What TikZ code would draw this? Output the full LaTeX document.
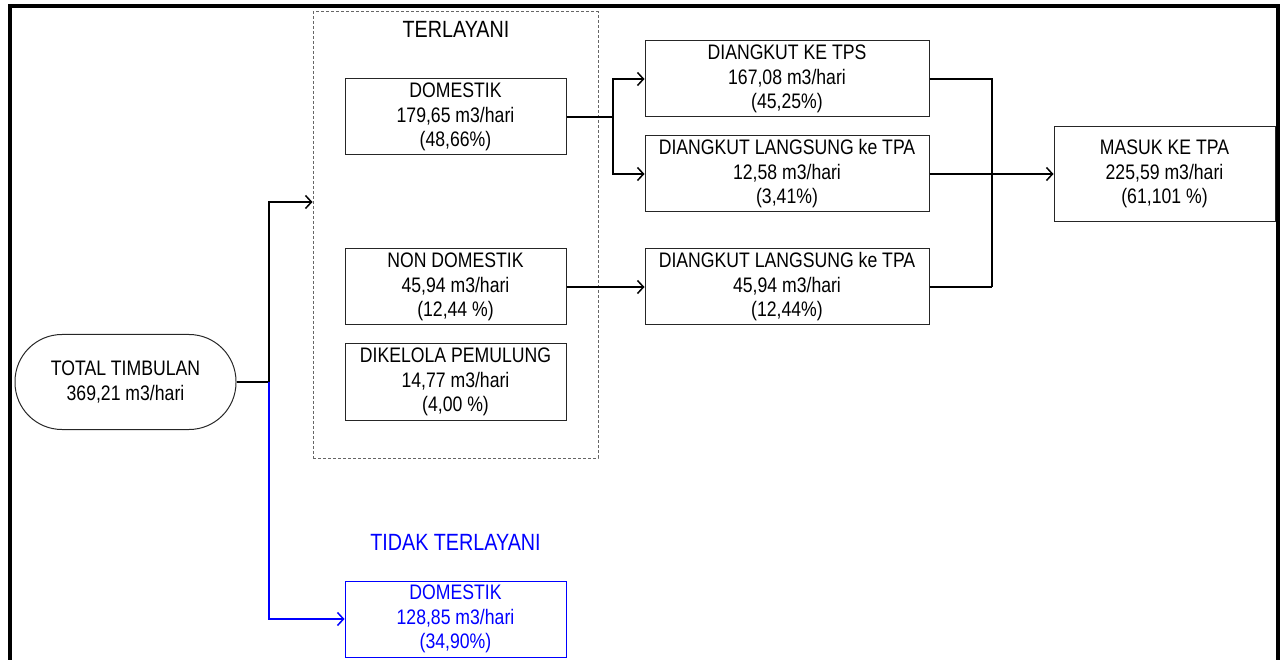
\documentclass[tikz,border=0pt]{standalone}
\usepackage{fontspec}
\setmainfont{Liberation Sans}[FakeStretch=0.84]
\usetikzlibrary{arrows.meta}
\tikzset{
  txt/.style={font=\fontsize{21}{24.5}\selectfont, align=center},
  head/.style={font=\fontsize{23.5}{26}\selectfont, align=center},
  box/.style={txt, draw=black!85, line width=1pt, minimum width=221pt, minimum height=76pt, inner sep=0pt},
  wbox/.style={box, minimum width=284pt},
  conn/.style={line width=1.8pt, -{Straight Barb[length=6pt,width=13pt,line width=1.5pt]}},
  line/.style={line width=1.8pt},
}
\begin{document}
\begin{tikzpicture}[x=1pt,y=-1pt]
\path[use as bounding box] (0,0) rectangle (1280,660);
% frame
\draw[line width=4pt] (10,662) -- (10,6) -- (1278,6) -- (1278,662);
% dashed group
\node[draw=black!60, line width=1pt, dash pattern=on 3pt off 2pt, minimum width=285pt, minimum height=446pt, inner sep=0pt] (grp) at (455.5,235) {};
\node[head] (terl) at (456,29) {TERLAYANI};
% left
\node[box, rounded corners=47pt, minimum height=95pt] (total) at (125.5,382) {TOTAL TIMBULAN\\369,21 m3/hari};
% inner boxes
\node[box] (dom) at (455.5,117) {DOMESTIK\\179,65 m3/hari\\(48,66\%)};
\node[box] (ndom) at (455.5,287) {NON DOMESTIK\\45,94 m3/hari\\(12,44 \%)};
\node[box] (pem) at (455.5,382) {DIKELOLA PEMULUNG\\14,77 m3/hari\\(4,00 \%)};
% not served
\node[head, text=blue] (tidak) at (455.5,542) {TIDAK TERLAYANI};
\node[box, draw=blue, text=blue] (bdom) at (455.5,619) {DOMESTIK\\128,85 m3/hari\\(34,90\%)};
% right
\node[wbox] (tps) at (787,79) {DIANGKUT KE TPS\\167,08 m3/hari\\(45,25\%)};
\node[wbox] (tpa1) at (787,174) {DIANGKUT LANGSUNG ke TPA\\12,58 m3/hari\\(3,41\%)};
\node[wbox] (tpa2) at (787,287) {DIANGKUT LANGSUNG ke TPA\\45,94 m3/hari\\(12,44\%)};
\node[box, minimum height=95pt] (masuk) at (1164.5,174) {MASUK KE TPA\\225,59 m3/hari\\(61,101 \%)};
% junctions
\coordinate (j0) at (269,382);
\coordinate (tl) at (grp.west |- 0,202);
\coordinate (j1) at (613,117);
\coordinate (j2) at (992,287);
% connectors
\draw[line] (total.east) -- (j0);
\draw[conn] (j0) |- (tl);
\draw[conn, blue] (j0) |- (bdom.west);
\draw[line] (dom.east) -- (j1);
\draw[conn] (j1) |- (tps.west);
\draw[conn] (j1) |- (tpa1.west);
\draw[conn] (ndom.east) -- (tpa2.west);
\draw[line] (tps.east) -| (j2);
\draw[line] (tpa2.east) -- (j2);
\draw[conn] (tpa1.east) -- (masuk.west);
\end{tikzpicture}
\end{document}
